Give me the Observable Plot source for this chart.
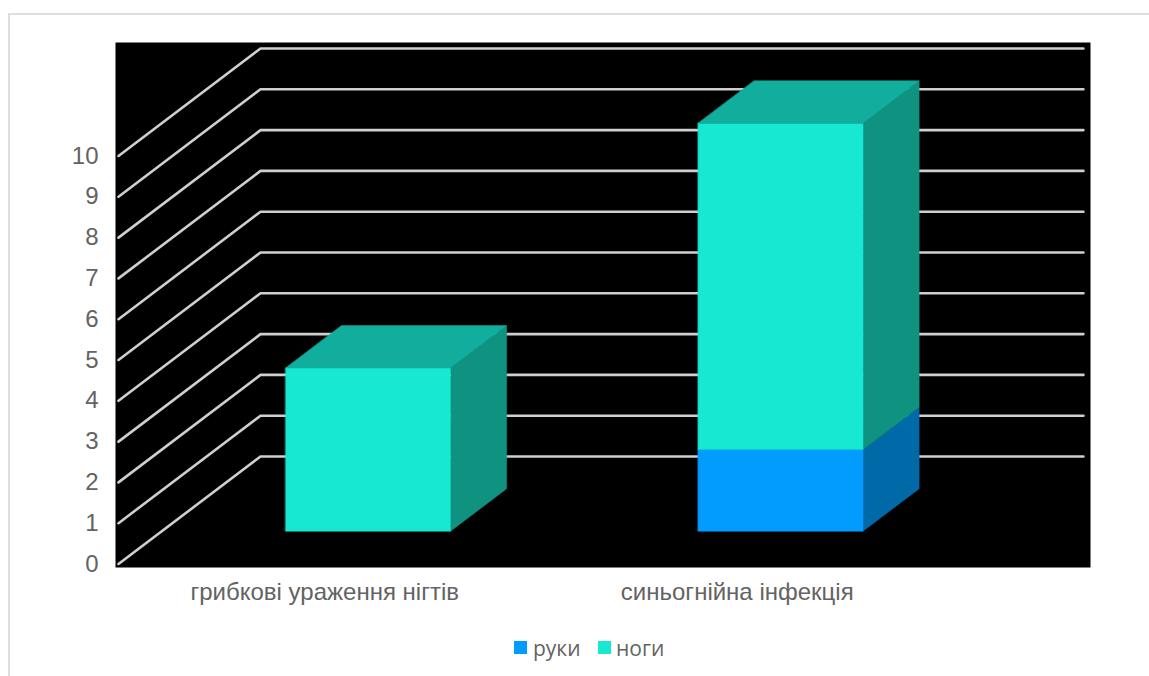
<!DOCTYPE html>
<html>
<head>
<meta charset="utf-8">
<script src="https://cdn.jsdelivr.net/npm/d3@7"></script>
<script src="https://cdn.jsdelivr.net/npm/@observablehq/plot@0.6"></script>
<style>
  html, body { margin: 0; padding: 0; background: #fff; }
  #page { position: relative; width: 1149px; height: 676px; overflow: hidden; }
  #panel { position: absolute; left: 8px; top: 13px; width: 1141px; height: 663px;
           border-top: 2px solid #dedede; border-left: 2px solid #dedede; box-sizing: border-box; }
  #chart { position: absolute; left: 0; top: 0; }
  #legend { position: absolute; left: 0; top: 634px; width: 1149px; height: 30px;
            font: 21px "Open Sans", sans-serif; color: #636363; }
  #legend span { position: absolute; top: 0; line-height: 28px; }
  #legend i { position: absolute; top: 7px; width: 13px; height: 13px; }
</style>
</head>
<body>
<div id="page">
  <div id="panel"></div>
  <div id="chart"></div>
  <div id="legend"></div>
</div>
<script>
// Cases per lesion type, split by location
const categories = ["грибкові ураження нігтів", "синьогнійна інфекція"];
const categoryCentres = [0.5, 1.5];
const hands = [0, 2];
const feet = [4, 8];
const seriesNames = ["руки", "ноги"];
const yTicks = [0, 1, 2, 3, 4, 5, 6, 7, 8, 9, 10];

const columnWidth = 0.4;
const depthFront = 0.305;
const depthBack = 0.7;
const gridEnd = 1.995;

// Oblique projection: a unit of depth shifts a point right and up in scale units
const depthDX = 142 / 412.5;
const depthDY = 107.5 / 40.8;
const project = (x, y, d) => ({x: x + d * depthDX, y: y + d * depthDY});

// Scale geometry of the floor's front edge
const xDomain = [0, 2];
const yDomain = [0, 10];

// Each cuboid face becomes one closed polygon, keyed by "face"
const shades = {
  "руки": {front: "#009dff", side: "#0069a8"},
  "ноги": {front: "#17e8d2", side: "#0f9380", top: "#11ae9d"}
};
const faces = [];
function addFace(id, fill, corners) {
  corners.forEach(([x, y, d]) => faces.push({id, fill, ...project(x, y, d)}));
}
categories.forEach((name, i) => {
  const left = categoryCentres[i] - columnWidth / 2;
  const right = categoryCentres[i] + columnWidth / 2;
  let base = 0;
  [[seriesNames[0], hands[i]], [seriesNames[1], feet[i]]].forEach(([series, value]) => {
    if (value === 0) return;
    const top = base + value;
    const s = shades[series];
    addFace(`${i}-${series}-side`, s.side, [[right, base, depthFront], [right, base, depthBack], [right, top, depthBack], [right, top, depthFront]]);
    addFace(`${i}-${series}-front`, s.front, [[left, base, depthFront], [right, base, depthFront], [right, top, depthFront], [left, top, depthFront]]);
    if (s.top) addFace(`${i}-${series}-top`, s.top, [[left, top, depthFront], [right, top, depthFront], [right, top, depthBack], [left, top, depthBack]]);
    base = top;
  });
});

// Gridlines run along the left wall, then across the back wall
const grid = yTicks.flatMap((v) => [
  {v, ...project(0, v, 0)},
  {v, ...project(0, v, 1)},
  {v, ...project(gridEnd, v, 1)}
]);

const plot = Plot.plot({
  width: 1149,
  height: 676,
  marginLeft: 115,
  marginRight: 59,
  marginTop: 42,
  marginBottom: 109,
  x: {domain: xDomain, range: [118, 943]},
  y: {domain: yDomain, range: [563.5, 155.5]},
  style: {background: "transparent", fontFamily: "'Liberation Sans', Arial, sans-serif"},
  marks: [
    Plot.frame({fill: "#000", stroke: null}),
    Plot.line(grid, {x: "x", y: "y", z: "v", stroke: "#cfcfcf", strokeWidth: 2.6, curve: "linear", strokeLinejoin: "miter"}),
    Plot.line(faces, {x: "x", y: "y", z: "id", fill: "fill", stroke: "fill", strokeWidth: 0.5, curve: "linear-closed"}),
    Plot.axisY({ticks: yTicks, tickSize: 0, tickPadding: 17, label: null, fontSize: 24, color: "#636363", tickFormat: (d) => d}),
    Plot.axisX({ticks: categoryCentres, tickSize: 0, tickPadding: 15, label: null, fontSize: 24, color: "#636363",
      tickFormat: (d) => categories[categoryCentres.indexOf(d)]})
  ]
});
document.getElementById("chart").append(plot);

// Legend row under the plot
const legend = document.getElementById("legend");
[[514, 533], [598, 616]].forEach(([swatchX, textX], i) => {
  const sw = document.createElement("i");
  sw.style.left = swatchX + "px";
  sw.style.background = shades[seriesNames[i]].front;
  const label = document.createElement("span");
  label.style.left = textX + "px";
  label.textContent = seriesNames[i];
  legend.append(sw, label);
});
</script>
</body>
</html>
